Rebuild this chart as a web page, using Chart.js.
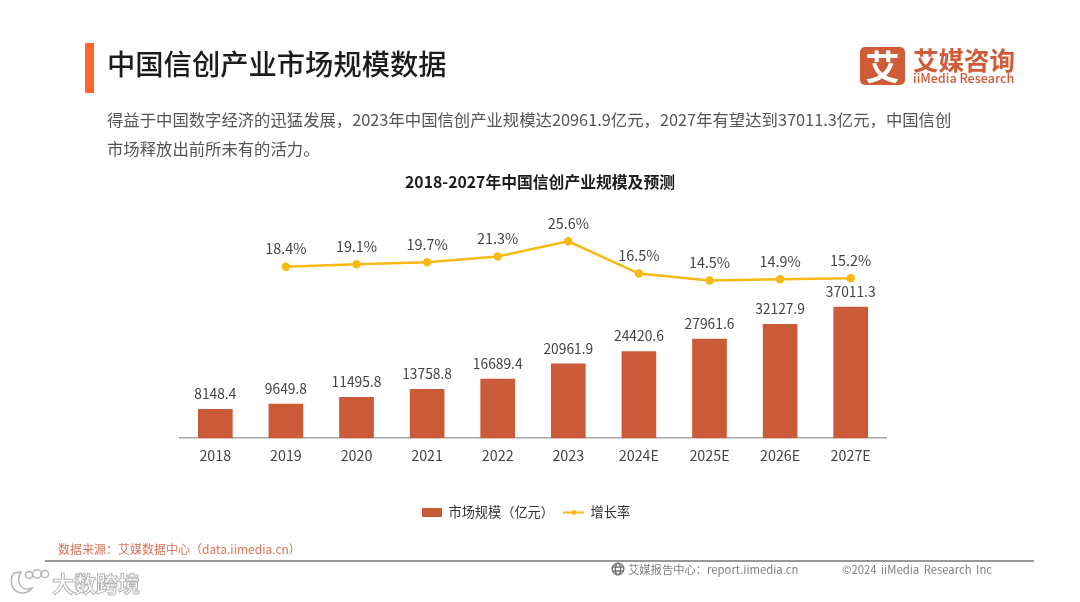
<!doctype html>
<html lang="zh">
<head>
    <meta charset="utf-8">
    <title>中国信创产业市场规模数据</title>
    <script src="https://cdn.jsdelivr.net/npm/chart.js@4/dist/chart.umd.js"></script>
    <style>
        html, body { margin: 0; padding: 0; background: #fff; }
        body { width: 1080px; height: 602px; overflow: hidden; position: relative; font-family: "Noto Sans CJK SC", "Noto Sans", sans-serif; }
        canvas#marketCanvas { position: absolute; left: 0; top: 0; }
        .abs { position: absolute; white-space: nowrap; }
        .accent { left: 85px; top: 43px; width: 9px; height: 50px; background: #ff6633; }
        .heading { left: 107px; top: 42px; font-size: 28.3px; line-height: 42px; font-weight: 500; color: #1c1c1c; }
        .intro { left: 107px; font-size: 16.35px; line-height: 24px; color: #555; }
        .logo-box { left: 860px; top: 47px; width: 45px; height: 38px; border-radius: 5px; background: #cf5b39; color: #fff; font-size: 34px; line-height: 38px; font-weight: 700; text-align: center; }
        .logo-cn { left: 913px; top: 44px; font-size: 25.5px; line-height: 30px; font-weight: 700; color: #cf5b39; }
        .logo-en { left: 913px; top: 70px; font-size: 12.6px; line-height: 16px; font-weight: 500; color: #cf5b39; }
        .source { left: 58px; top: 540px; font-size: 12px; line-height: 18px; color: #d9755c; }
        .rule { left: 45px; top: 560px; width: 989px; height: 2px; background: #999; }
        .foot { top: 560px; font-size: 11.3px; line-height: 18px; color: #808080; }
        .mark { left: 52px; top: 566px; font-size: 22px; line-height: 32px; font-weight: 700; color: #fff; -webkit-text-stroke: 1px #b5b5b5; }
    </style>
</head>
<body>
<canvas id="marketCanvas" width="1080" height="602"></canvas>

<div class="abs accent"></div>
<div class="abs heading">中国信创产业市场规模数据</div>
<div class="abs intro" style="top:107px">得益于中国数字经济的迅猛发展，2023年中国信创产业规模达20961.9亿元，2027年有望达到37011.3亿元，中国信创</div>
<div class="abs intro" style="top:136px">市场释放出前所未有的活力。</div>

<div class="abs logo-box">艾</div>
<div class="abs logo-cn">艾媒咨询</div>
<div class="abs logo-en">iiMedia Research</div>

<div class="abs source">数据来源：艾媒数据中心（data.iimedia.cn）</div>
<div class="abs rule"></div>
<svg class="abs" style="left:611px;top:562px" width="14" height="14" viewBox="0 0 14 14" fill="none" stroke="#777" stroke-width="1.4">
    <circle cx="7" cy="7" r="5.8"/><ellipse cx="7" cy="7" rx="2.6" ry="5.8"/><path d="M1.4 5h11.2M1.4 9h11.2"/>
</svg>
<div class="abs foot" style="left:628px">艾媒报告中心：report.iimedia.cn</div>
<div class="abs foot" style="left:842px;word-spacing:2px">©2024 iiMedia Research Inc</div>

<svg class="abs" style="left:8px;top:568px" width="42" height="28" viewBox="0 0 42 28" fill="none" stroke="#b5b5b5" stroke-width="1.5">
    <path d="M6 5C1 12 3 24 14 25 19 25 22 23 24 20 19 22 12 21 11 14 10 10 11 7 13 4Z" fill="#fff"/>
    <circle cx="21" cy="7" r="3.6" fill="#fff"/><circle cx="29" cy="6" r="4.2" fill="#fff"/><circle cx="37" cy="6" r="3.6" fill="#fff"/>
</svg>
<div class="abs mark">大数跨境</div>

<script>
    const categories = ['2018', '2019', '2020', '2021', '2022', '2023', '2024E', '2025E', '2026E', '2027E'];
    const marketSize = [8148.4, 9649.8, 11495.8, 13758.8, 16689.4, 20961.9, 24420.6, 27961.6, 32127.9, 37011.3];
    const growthRate = [null, 18.4, 19.1, 19.7, 21.3, 25.6, 16.5, 14.5, 14.9, 15.2];
    const chartTitle = '2018-2027年中国信创产业规模及预测';
    const barLabel = '市场规模（亿元）';
    const lineLabel = '增长率';

    const BAR_COLOR = '#cb5a38';
    const LINE_COLOR = '#f8b912';
    const FONT = '"Noto Sans CJK SC", "Noto Sans", sans-serif';

    // little legend swatches, so the line entry keeps its line and dot
    function barSwatch() {
        let c = document.createElement('canvas');
        c.width = 20;
        c.height = 9;
        let g = c.getContext('2d');
        g.fillStyle = BAR_COLOR;
        g.fillRect(0, 0, 20, 9);
        return c;
    }

    function lineSwatch() {
        let c = document.createElement('canvas');
        c.width = 21;
        c.height = 7;
        let g = c.getContext('2d');
        g.fillStyle = LINE_COLOR;
        g.fillRect(0, 2.5, 21, 2);
        g.beginPath();
        g.arc(10.5, 3.5, 2.5, 0, Math.PI * 2);
        g.fill();
        return c;
    }

    const swatches = [barSwatch(), lineSwatch()];

    // value labels above the bars and the line points
    const valueLabels = {
        id: 'valueLabels',
        afterDatasetsDraw(chart) {
            let ctx = chart.ctx;
            ctx.save();
            ctx.fillStyle = '#444';
            ctx.textAlign = 'center';
            ctx.textBaseline = 'middle';
            ctx.font = '13.8px ' + FONT;
            chart.getDatasetMeta(0).data.forEach(function (bar, i) {
                ctx.fillText(marketSize[i].toFixed(1), bar.x, bar.y - 15.5);
            });
            ctx.font = '14.4px ' + FONT;
            chart.getDatasetMeta(1).data.forEach(function (point, i) {
                if (growthRate[i] !== null) {
                    ctx.fillText(growthRate[i].toFixed(1) + '%', point.x, point.y - 18);
                }
            });
            ctx.restore();
        }
    };

    // title and legend sit off the plot centre in the original, legend also lower
    const nudgeBoxes = {
        id: 'nudgeBoxes',
        afterLayout(chart) {
            chart.titleBlock.left += 7;
            chart.titleBlock.right += 7;
            chart.legend.left -= 7;
            chart.legend.right -= 7;
            chart.legend.top += 22.5;
            chart.legend.bottom += 22.5;
        }
    };

    new Chart(document.getElementById('marketCanvas'), {
        data: {
            labels: categories,
            datasets: [{
                type: 'bar',
                label: barLabel,
                data: marketSize,
                yAxisID: 'y',
                backgroundColor: BAR_COLOR,
                barThickness: 34,
                order: 2
            }, {
                type: 'line',
                label: lineLabel,
                data: growthRate,
                yAxisID: 'y1',
                borderColor: LINE_COLOR,
                backgroundColor: LINE_COLOR,
                borderWidth: 2.5,
                pointRadius: 3,
                pointHoverRadius: 3,
                tension: 0,
                order: 1
            }]
        },
        options: {
            responsive: false,
            animation: false,
            layout: {
                padding: { left: 180, right: 194, top: 165, bottom: 95.5 }
            },
            scales: {
                x: {
                    grid: { display: false, drawTicks: false },
                    border: { color: '#aaa', width: 1.5 },
                    ticks: {
                        color: '#444',
                        padding: 9,
                        font: { family: FONT, size: 14.3 },
                        maxRotation: 0,
                        autoSkip: false
                    }
                },
                y: { display: false, min: 0, max: 67000 },
                y1: { display: false, min: -30, max: 37 }
            },
            plugins: {
                title: {
                    display: true,
                    text: chartTitle,
                    color: '#1c1c1c',
                    font: { family: FONT, size: 15.8, weight: '700' },
                    padding: { top: 8, bottom: 9 }
                },
                legend: {
                    position: 'bottom',
                    labels: {
                        color: '#333',
                        font: { family: FONT, size: 13.2 },
                        padding: 10,
                        usePointStyle: true,
                        pointStyleWidth: 20,
                        sort: function (a, b) {
                            return a.datasetIndex - b.datasetIndex;
                        },
                        generateLabels(chart) {
                            let items = Chart.defaults.plugins.legend.labels.generateLabels(chart);
                            items.forEach(function (item) {
                                item.pointStyle = swatches[item.datasetIndex];
                            });
                            return items;
                        }
                    }
                },
                tooltip: { enabled: false }
            }
        },
        plugins: [valueLabels, nudgeBoxes]
    });
</script>
</body>
</html>
